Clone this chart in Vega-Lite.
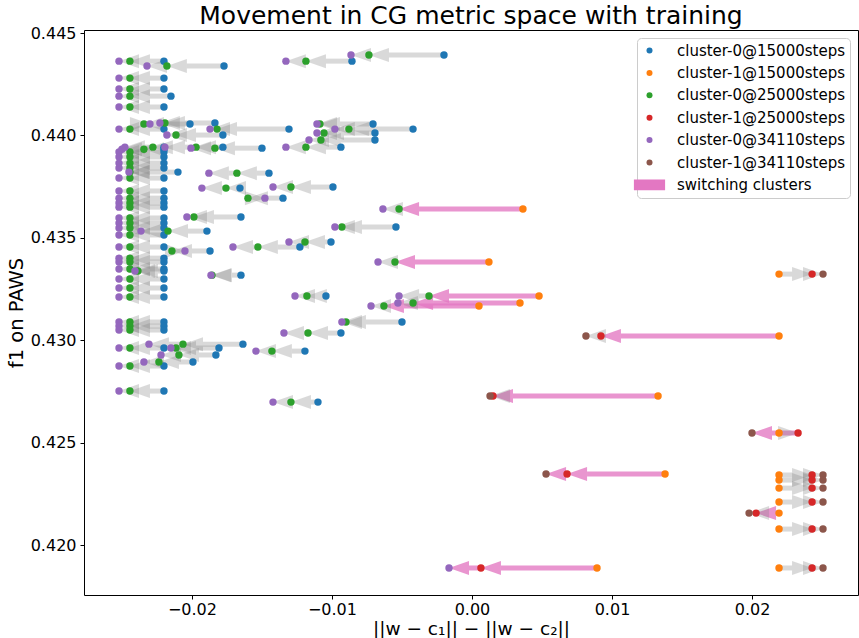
{
"$schema": "https://vega.github.io/schema/vega-lite/v6.json",
"width": 774, "height": 565,
"autosize": {"type": "none"},
"padding": {"left": 84, "top": 30, "right": 1, "bottom": 43},
"title": {"text": "Movement in CG metric space with training", "fontSize": 25, "font": "DejaVu Sans", "fontWeight": "normal", "color": "black", "anchor": "middle", "baseline": "alphabetic", "offset": 5, "frame": "group", "dy": 29},
"config": {
  "view": {"stroke": "black", "strokeWidth": 1},
  "font": "DejaVu Sans",
  "axis": {"grid": false, "domain": false, "tickColor": "black", "tickSize": 4, "labelFontSize": 16, "labelColor": "black", "labelFont": "DejaVu Sans", "titleFontSize": 20, "titleFontWeight": "normal", "titleColor": "black", "titleFont": "DejaVu Sans"},
  "axisX": {"titlePadding": 2, "labelPadding": 2, "titleFontSize": 18.5},
  "axisY": {"titleFontSize": 19.5, "labelPadding": 4},
  "legend": {"orient": "top-right", "offset": 8, "labelFontSize": 15, "labelFont": "DejaVu Sans", "labelColor": "black", "symbolSize": 36, "rowPadding": 6.4, "padding": 5, "strokeColor": "#cccccc", "cornerRadius": 4, "fillColor": "white", "labelLimit": 400, "labelOffset": 20, "symbolOffset": 0}
},
"datasets": {"pts": [
{"id":1,"s":1,"c":"cluster-0@15000steps","x":-0.022,"y":0.44363,"a":"g"},{"id":1,"s":2,"c":"cluster-0@25000steps","x":-0.02443,"y":0.44363,"a":"g"},{"id":1,"s":3,"c":"cluster-0@34110steps","x":-0.02521,"y":0.44363},
{"id":2,"s":1,"c":"cluster-0@15000steps","x":-0.01771,"y":0.44339,"a":"g"},{"id":2,"s":2,"c":"cluster-0@25000steps","x":-0.02179,"y":0.44339,"a":"g"},{"id":2,"s":3,"c":"cluster-0@34110steps","x":-0.02321,"y":0.44339},
{"id":3,"s":1,"c":"cluster-0@15000steps","x":-0.022,"y":0.4428,"a":"g"},{"id":3,"s":2,"c":"cluster-0@25000steps","x":-0.02443,"y":0.4428,"a":"g"},{"id":3,"s":3,"c":"cluster-0@34110steps","x":-0.02521,"y":0.4428},
{"id":4,"s":1,"c":"cluster-0@15000steps","x":-0.022,"y":0.44227,"a":"g"},{"id":4,"s":2,"c":"cluster-0@25000steps","x":-0.02443,"y":0.44227,"a":"g"},{"id":4,"s":3,"c":"cluster-0@34110steps","x":-0.02521,"y":0.44227},
{"id":5,"s":1,"c":"cluster-0@15000steps","x":-0.0215,"y":0.44192,"a":"g"},{"id":5,"s":2,"c":"cluster-0@25000steps","x":-0.02443,"y":0.44192,"a":"g"},{"id":5,"s":3,"c":"cluster-0@34110steps","x":-0.02521,"y":0.44192},
{"id":6,"s":1,"c":"cluster-0@15000steps","x":-0.022,"y":0.44139,"a":"g"},{"id":6,"s":2,"c":"cluster-0@25000steps","x":-0.02443,"y":0.44139,"a":"g"},{"id":6,"s":3,"c":"cluster-0@34110steps","x":-0.02521,"y":0.44139},
{"id":7,"s":1,"c":"cluster-0@15000steps","x":-0.002,"y":0.44393,"a":"g"},{"id":7,"s":2,"c":"cluster-0@25000steps","x":-0.00736,"y":0.44393,"a":"g"},{"id":7,"s":3,"c":"cluster-0@34110steps","x":-0.00864,"y":0.44393},
{"id":8,"s":1,"c":"cluster-0@15000steps","x":-0.00857,"y":0.44363,"a":"g"},{"id":8,"s":2,"c":"cluster-0@25000steps","x":-0.01186,"y":0.44363,"a":"g"},{"id":8,"s":3,"c":"cluster-0@34110steps","x":-0.01329,"y":0.44363},
{"id":9,"s":1,"c":"cluster-0@15000steps","x":-0.01836,"y":0.44061,"a":"g"},{"id":9,"s":2,"c":"cluster-0@25000steps","x":-0.02193,"y":0.44061,"a":"g"},{"id":9,"s":3,"c":"cluster-0@34110steps","x":-0.02229,"y":0.44061},
{"id":10,"s":1,"c":"cluster-0@15000steps","x":-0.02014,"y":0.44056,"a":"g"},{"id":10,"s":2,"c":"cluster-0@25000steps","x":-0.02343,"y":0.44056,"a":"g"},{"id":10,"s":3,"c":"cluster-0@34110steps","x":-0.023,"y":0.44056},
{"id":11,"s":1,"c":"cluster-0@15000steps","x":-0.022,"y":0.44031,"a":"g"},{"id":11,"s":2,"c":"cluster-0@25000steps","x":-0.02443,"y":0.44031,"a":"g"},{"id":11,"s":3,"c":"cluster-0@34110steps","x":-0.02521,"y":0.44031},
{"id":12,"s":1,"c":"cluster-0@15000steps","x":-0.01307,"y":0.44031,"a":"g"},{"id":12,"s":2,"c":"cluster-0@25000steps","x":-0.01821,"y":0.44031,"a":"g"},{"id":12,"s":3,"c":"cluster-0@34110steps","x":-0.01871,"y":0.44031},
{"id":13,"s":1,"c":"cluster-0@15000steps","x":-0.01779,"y":0.44002,"a":"g"},{"id":13,"s":2,"c":"cluster-0@25000steps","x":-0.02114,"y":0.44002,"a":"g"},{"id":13,"s":3,"c":"cluster-0@34110steps","x":-0.02179,"y":0.44002},
{"id":14,"s":1,"c":"cluster-0@15000steps","x":-0.00707,"y":0.44056,"a":"g"},{"id":14,"s":2,"c":"cluster-0@25000steps","x":-0.01086,"y":0.44056,"a":"g"},{"id":14,"s":3,"c":"cluster-0@34110steps","x":-0.01107,"y":0.44056},
{"id":15,"s":1,"c":"cluster-0@15000steps","x":-0.00421,"y":0.44031,"a":"g"},{"id":15,"s":2,"c":"cluster-0@25000steps","x":-0.00879,"y":0.44031,"a":"g"},{"id":15,"s":3,"c":"cluster-0@34110steps","x":-0.00979,"y":0.44031},
{"id":16,"s":1,"c":"cluster-0@15000steps","x":-0.00693,"y":0.44012,"a":"g"},{"id":16,"s":2,"c":"cluster-0@25000steps","x":-0.01057,"y":0.44012,"a":"g"},{"id":16,"s":3,"c":"cluster-0@34110steps","x":-0.01107,"y":0.44012},
{"id":17,"s":1,"c":"cluster-0@15000steps","x":-0.00693,"y":0.43978,"a":"g"},{"id":17,"s":2,"c":"cluster-0@25000steps","x":-0.01079,"y":0.43978,"a":"g"},{"id":17,"s":3,"c":"cluster-0@34110steps","x":-0.01164,"y":0.43978},
{"id":18,"s":1,"c":"cluster-0@15000steps","x":-0.00936,"y":0.43943,"a":"g"},{"id":18,"s":2,"c":"cluster-0@25000steps","x":-0.01186,"y":0.43943,"a":"g"},{"id":18,"s":3,"c":"cluster-0@34110steps","x":-0.01329,"y":0.43943},
{"id":19,"s":1,"c":"cluster-0@15000steps","x":-0.015,"y":0.43938,"a":"g"},{"id":19,"s":2,"c":"cluster-0@25000steps","x":-0.01836,"y":0.43938,"a":"g"},{"id":19,"s":3,"c":"cluster-0@34110steps","x":-0.02007,"y":0.43938},
{"id":20,"s":1,"c":"cluster-0@15000steps","x":-0.01779,"y":0.43943,"a":"g"},{"id":20,"s":2,"c":"cluster-0@25000steps","x":-0.01971,"y":0.43943,"a":"g"},{"id":20,"s":3,"c":"cluster-0@34110steps","x":-0.02193,"y":0.43943},
{"id":21,"s":1,"c":"cluster-0@15000steps","x":-0.022,"y":0.43943,"a":"g"},{"id":21,"s":2,"c":"cluster-0@25000steps","x":-0.02279,"y":0.43943,"a":"g"},{"id":21,"s":3,"c":"cluster-0@34110steps","x":-0.02479,"y":0.43943},
{"id":22,"s":1,"c":"cluster-0@15000steps","x":-0.022,"y":0.43933,"a":"g"},{"id":22,"s":2,"c":"cluster-0@25000steps","x":-0.02343,"y":0.43933,"a":"g"},{"id":22,"s":3,"c":"cluster-0@34110steps","x":-0.025,"y":0.43933},
{"id":23,"s":1,"c":"cluster-0@15000steps","x":-0.022,"y":0.43919,"a":"g"},{"id":23,"s":2,"c":"cluster-0@25000steps","x":-0.02443,"y":0.43919,"a":"g"},{"id":23,"s":3,"c":"cluster-0@34110steps","x":-0.02521,"y":0.43919},
{"id":24,"s":1,"c":"cluster-0@15000steps","x":-0.022,"y":0.43895,"a":"g"},{"id":24,"s":2,"c":"cluster-0@25000steps","x":-0.02443,"y":0.43895,"a":"g"},{"id":24,"s":3,"c":"cluster-0@34110steps","x":-0.02521,"y":0.43895},
{"id":25,"s":1,"c":"cluster-0@15000steps","x":-0.022,"y":0.43865,"a":"g"},{"id":25,"s":2,"c":"cluster-0@25000steps","x":-0.02443,"y":0.43865,"a":"g"},{"id":25,"s":3,"c":"cluster-0@34110steps","x":-0.02521,"y":0.43865},
{"id":26,"s":1,"c":"cluster-0@15000steps","x":-0.022,"y":0.43841,"a":"g"},{"id":26,"s":2,"c":"cluster-0@25000steps","x":-0.02443,"y":0.43841,"a":"g"},{"id":26,"s":3,"c":"cluster-0@34110steps","x":-0.02521,"y":0.43841},
{"id":27,"s":1,"c":"cluster-0@15000steps","x":-0.021,"y":0.43821,"a":"g"},{"id":27,"s":2,"c":"cluster-0@25000steps","x":-0.02443,"y":0.43821,"a":"g"},{"id":27,"s":3,"c":"cluster-0@34110steps","x":-0.0245,"y":0.43821},
{"id":28,"s":1,"c":"cluster-0@15000steps","x":-0.0145,"y":0.43816,"a":"g"},{"id":28,"s":2,"c":"cluster-0@25000steps","x":-0.01679,"y":0.43816,"a":"g"},{"id":28,"s":3,"c":"cluster-0@34110steps","x":-0.01879,"y":0.43816},
{"id":29,"s":1,"c":"cluster-0@15000steps","x":-0.022,"y":0.43792,"a":"g"},{"id":29,"s":2,"c":"cluster-0@25000steps","x":-0.02443,"y":0.43792,"a":"g"},{"id":29,"s":3,"c":"cluster-0@34110steps","x":-0.02521,"y":0.43792},
{"id":30,"s":1,"c":"cluster-0@15000steps","x":-0.00993,"y":0.43748,"a":"g"},{"id":30,"s":2,"c":"cluster-0@25000steps","x":-0.01293,"y":0.43748,"a":"g"},{"id":30,"s":3,"c":"cluster-0@34110steps","x":-0.01421,"y":0.43748},
{"id":31,"s":1,"c":"cluster-0@15000steps","x":-0.01657,"y":0.43743,"a":"g"},{"id":31,"s":2,"c":"cluster-0@25000steps","x":-0.01757,"y":0.43743,"a":"g"},{"id":31,"s":3,"c":"cluster-0@34110steps","x":-0.01929,"y":0.43743},
{"id":32,"s":1,"c":"cluster-0@15000steps","x":-0.022,"y":0.43729,"a":"g"},{"id":32,"s":2,"c":"cluster-0@25000steps","x":-0.02443,"y":0.43729,"a":"g"},{"id":32,"s":3,"c":"cluster-0@34110steps","x":-0.02521,"y":0.43729},
{"id":33,"s":1,"c":"cluster-0@15000steps","x":-0.0135,"y":0.43694,"a":"g"},{"id":33,"s":2,"c":"cluster-0@25000steps","x":-0.016,"y":0.43694,"a":"g"},{"id":33,"s":3,"c":"cluster-0@34110steps","x":-0.01479,"y":0.43694},
{"id":34,"s":1,"c":"cluster-0@15000steps","x":-0.022,"y":0.43694,"a":"g"},{"id":34,"s":2,"c":"cluster-0@25000steps","x":-0.02443,"y":0.43694,"a":"g"},{"id":34,"s":3,"c":"cluster-0@34110steps","x":-0.02521,"y":0.43694},
{"id":35,"s":1,"c":"cluster-0@15000steps","x":-0.022,"y":0.4367,"a":"g"},{"id":35,"s":2,"c":"cluster-0@25000steps","x":-0.02443,"y":0.4367,"a":"g"},{"id":35,"s":3,"c":"cluster-0@34110steps","x":-0.02521,"y":0.4367},
{"id":36,"s":1,"c":"cluster-0@15000steps","x":-0.022,"y":0.4365,"a":"g"},{"id":36,"s":2,"c":"cluster-0@25000steps","x":-0.02443,"y":0.4365,"a":"g"},{"id":36,"s":3,"c":"cluster-0@34110steps","x":-0.02521,"y":0.4365},
{"id":37,"s":1,"c":"cluster-0@15000steps","x":-0.0165,"y":0.43602,"a":"g"},{"id":37,"s":2,"c":"cluster-0@25000steps","x":-0.01986,"y":0.43602,"a":"g"},{"id":37,"s":3,"c":"cluster-0@34110steps","x":-0.02036,"y":0.43602},
{"id":38,"s":1,"c":"cluster-0@15000steps","x":-0.022,"y":0.43597,"a":"g"},{"id":38,"s":2,"c":"cluster-0@25000steps","x":-0.02443,"y":0.43597,"a":"g"},{"id":38,"s":3,"c":"cluster-0@34110steps","x":-0.02521,"y":0.43597},
{"id":39,"s":1,"c":"cluster-0@15000steps","x":-0.022,"y":0.43572,"a":"g"},{"id":39,"s":2,"c":"cluster-0@25000steps","x":-0.02443,"y":0.43572,"a":"g"},{"id":39,"s":3,"c":"cluster-0@34110steps","x":-0.02521,"y":0.43572},
{"id":40,"s":1,"c":"cluster-0@15000steps","x":-0.00543,"y":0.43553,"a":"g"},{"id":40,"s":2,"c":"cluster-0@25000steps","x":-0.00929,"y":0.43553,"a":"g"},{"id":40,"s":3,"c":"cluster-0@34110steps","x":-0.00979,"y":0.43553},
{"id":41,"s":1,"c":"cluster-0@15000steps","x":-0.022,"y":0.43548,"a":"g"},{"id":41,"s":2,"c":"cluster-0@25000steps","x":-0.02443,"y":0.43548,"a":"g"},{"id":41,"s":3,"c":"cluster-0@34110steps","x":-0.02521,"y":0.43548},
{"id":42,"s":1,"c":"cluster-0@15000steps","x":-0.01893,"y":0.43533,"a":"g"},{"id":42,"s":2,"c":"cluster-0@25000steps","x":-0.02171,"y":0.43533,"a":"g"},{"id":42,"s":3,"c":"cluster-0@34110steps","x":-0.02364,"y":0.43533},
{"id":43,"s":1,"c":"cluster-0@15000steps","x":-0.022,"y":0.43514,"a":"g"},{"id":43,"s":2,"c":"cluster-0@25000steps","x":-0.02443,"y":0.43514,"a":"g"},{"id":43,"s":3,"c":"cluster-0@34110steps","x":-0.02521,"y":0.43514},
{"id":44,"s":1,"c":"cluster-0@15000steps","x":-0.01007,"y":0.4348,"a":"g"},{"id":44,"s":2,"c":"cluster-0@25000steps","x":-0.01193,"y":0.4348,"a":"g"},{"id":44,"s":3,"c":"cluster-0@34110steps","x":-0.01307,"y":0.4348},
{"id":45,"s":1,"c":"cluster-0@15000steps","x":-0.01229,"y":0.43455,"a":"g"},{"id":45,"s":2,"c":"cluster-0@25000steps","x":-0.01529,"y":0.43455,"a":"g"},{"id":45,"s":3,"c":"cluster-0@34110steps","x":-0.01707,"y":0.43455},
{"id":46,"s":1,"c":"cluster-0@15000steps","x":-0.022,"y":0.43455,"a":"g"},{"id":46,"s":2,"c":"cluster-0@25000steps","x":-0.02443,"y":0.43455,"a":"g"},{"id":46,"s":3,"c":"cluster-0@34110steps","x":-0.02521,"y":0.43455},
{"id":47,"s":1,"c":"cluster-0@15000steps","x":-0.01871,"y":0.43436,"a":"g"},{"id":47,"s":2,"c":"cluster-0@25000steps","x":-0.02143,"y":0.43436,"a":"g"},{"id":47,"s":3,"c":"cluster-0@34110steps","x":-0.0205,"y":0.43436},
{"id":48,"s":1,"c":"cluster-0@15000steps","x":-0.022,"y":0.43401,"a":"g"},{"id":48,"s":2,"c":"cluster-0@25000steps","x":-0.02443,"y":0.43401,"a":"g"},{"id":48,"s":3,"c":"cluster-0@34110steps","x":-0.02521,"y":0.43401},
{"id":49,"s":1,"c":"cluster-0@15000steps","x":-0.022,"y":0.43382,"a":"g"},{"id":49,"s":2,"c":"cluster-0@25000steps","x":-0.02443,"y":0.43382,"a":"g"},{"id":49,"s":3,"c":"cluster-0@34110steps","x":-0.02521,"y":0.43382},
{"id":50,"s":1,"c":"cluster-0@15000steps","x":-0.022,"y":0.43348,"a":"g"},{"id":50,"s":2,"c":"cluster-0@25000steps","x":-0.02443,"y":0.43348,"a":"g"},{"id":50,"s":3,"c":"cluster-0@34110steps","x":-0.02521,"y":0.43348},
{"id":51,"s":1,"c":"cluster-0@15000steps","x":-0.022,"y":0.43338,"a":"g"},{"id":51,"s":2,"c":"cluster-0@25000steps","x":-0.02386,"y":0.43338,"a":"g"},{"id":51,"s":3,"c":"cluster-0@34110steps","x":-0.02407,"y":0.43338},
{"id":52,"s":1,"c":"cluster-0@15000steps","x":-0.0165,"y":0.43318,"a":"g"},{"id":52,"s":2,"c":"cluster-0@25000steps","x":-0.01857,"y":0.43318,"a":"g"},{"id":52,"s":3,"c":"cluster-0@34110steps","x":-0.01864,"y":0.43318},
{"id":53,"s":1,"c":"cluster-0@15000steps","x":-0.022,"y":0.43299,"a":"g"},{"id":53,"s":2,"c":"cluster-0@25000steps","x":-0.02443,"y":0.43299,"a":"g"},{"id":53,"s":3,"c":"cluster-0@34110steps","x":-0.02521,"y":0.43299},
{"id":54,"s":1,"c":"cluster-0@15000steps","x":-0.022,"y":0.43255,"a":"g"},{"id":54,"s":2,"c":"cluster-0@25000steps","x":-0.02443,"y":0.43255,"a":"g"},{"id":54,"s":3,"c":"cluster-0@34110steps","x":-0.02521,"y":0.43255},
{"id":55,"s":1,"c":"cluster-0@15000steps","x":-0.01043,"y":0.43216,"a":"g"},{"id":55,"s":2,"c":"cluster-0@25000steps","x":-0.01179,"y":0.43216,"a":"g"},{"id":55,"s":3,"c":"cluster-0@34110steps","x":-0.01264,"y":0.43216},
{"id":56,"s":1,"c":"cluster-0@15000steps","x":-0.022,"y":0.43211,"a":"g"},{"id":56,"s":2,"c":"cluster-0@25000steps","x":-0.02443,"y":0.43211,"a":"g"},{"id":56,"s":3,"c":"cluster-0@34110steps","x":-0.02521,"y":0.43211},
{"id":57,"s":1,"c":"cluster-0@15000steps","x":-0.005,"y":0.43089,"a":"g"},{"id":57,"s":2,"c":"cluster-0@25000steps","x":-0.009,"y":0.43089,"a":"g"},{"id":57,"s":3,"c":"cluster-0@34110steps","x":-0.00929,"y":0.43089},
{"id":58,"s":1,"c":"cluster-0@15000steps","x":-0.022,"y":0.43089,"a":"g"},{"id":58,"s":2,"c":"cluster-0@25000steps","x":-0.02443,"y":0.43089,"a":"g"},{"id":58,"s":3,"c":"cluster-0@34110steps","x":-0.02521,"y":0.43089},
{"id":59,"s":1,"c":"cluster-0@15000steps","x":-0.022,"y":0.43069,"a":"g"},{"id":59,"s":2,"c":"cluster-0@25000steps","x":-0.02443,"y":0.43069,"a":"g"},{"id":59,"s":3,"c":"cluster-0@34110steps","x":-0.02521,"y":0.43069},
{"id":60,"s":1,"c":"cluster-0@15000steps","x":-0.022,"y":0.4305,"a":"g"},{"id":60,"s":2,"c":"cluster-0@25000steps","x":-0.02443,"y":0.4305,"a":"g"},{"id":60,"s":3,"c":"cluster-0@34110steps","x":-0.02521,"y":0.4305},
{"id":61,"s":1,"c":"cluster-0@15000steps","x":-0.00936,"y":0.43035,"a":"g"},{"id":61,"s":2,"c":"cluster-0@25000steps","x":-0.01171,"y":0.43035,"a":"g"},{"id":61,"s":3,"c":"cluster-0@34110steps","x":-0.01343,"y":0.43035},
{"id":62,"s":1,"c":"cluster-0@15000steps","x":-0.01636,"y":0.42981,"a":"g"},{"id":62,"s":2,"c":"cluster-0@25000steps","x":-0.02064,"y":0.42981,"a":"g"},{"id":62,"s":3,"c":"cluster-0@34110steps","x":-0.02307,"y":0.42981},
{"id":63,"s":1,"c":"cluster-0@15000steps","x":-0.01807,"y":0.42962,"a":"g"},{"id":63,"s":2,"c":"cluster-0@25000steps","x":-0.02114,"y":0.42962,"a":"g"},{"id":63,"s":3,"c":"cluster-0@34110steps","x":-0.0215,"y":0.42962},
{"id":64,"s":1,"c":"cluster-0@15000steps","x":-0.022,"y":0.42962,"a":"g"},{"id":64,"s":2,"c":"cluster-0@25000steps","x":-0.02443,"y":0.42962,"a":"g"},{"id":64,"s":3,"c":"cluster-0@34110steps","x":-0.02521,"y":0.42962},
{"id":65,"s":1,"c":"cluster-0@15000steps","x":-0.01193,"y":0.42947,"a":"g"},{"id":65,"s":2,"c":"cluster-0@25000steps","x":-0.01429,"y":0.42947,"a":"g"},{"id":65,"s":3,"c":"cluster-0@34110steps","x":-0.01543,"y":0.42947},
{"id":66,"s":1,"c":"cluster-0@15000steps","x":-0.01829,"y":0.42928,"a":"g"},{"id":66,"s":2,"c":"cluster-0@25000steps","x":-0.02093,"y":0.42928,"a":"g"},{"id":66,"s":3,"c":"cluster-0@34110steps","x":-0.02221,"y":0.42928},
{"id":67,"s":1,"c":"cluster-0@15000steps","x":-0.01993,"y":0.42894,"a":"g"},{"id":67,"s":2,"c":"cluster-0@25000steps","x":-0.02236,"y":0.42894,"a":"g"},{"id":67,"s":3,"c":"cluster-0@34110steps","x":-0.02343,"y":0.42894},
{"id":68,"s":1,"c":"cluster-0@15000steps","x":-0.022,"y":0.42874,"a":"g"},{"id":68,"s":2,"c":"cluster-0@25000steps","x":-0.02443,"y":0.42874,"a":"g"},{"id":68,"s":3,"c":"cluster-0@34110steps","x":-0.02521,"y":0.42874},
{"id":69,"s":1,"c":"cluster-0@15000steps","x":-0.022,"y":0.42752,"a":"g"},{"id":69,"s":2,"c":"cluster-0@25000steps","x":-0.02443,"y":0.42752,"a":"g"},{"id":69,"s":3,"c":"cluster-0@34110steps","x":-0.02521,"y":0.42752},
{"id":70,"s":1,"c":"cluster-0@15000steps","x":-0.011,"y":0.42698,"a":"g"},{"id":70,"s":2,"c":"cluster-0@25000steps","x":-0.01293,"y":0.42698,"a":"g"},{"id":70,"s":3,"c":"cluster-0@34110steps","x":-0.01421,"y":0.42698},
{"id":71,"s":1,"c":"cluster-1@15000steps","x":0.00364,"y":0.43641,"a":"p"},{"id":71,"s":2,"c":"cluster-0@25000steps","x":-0.00521,"y":0.43641,"a":"g"},{"id":71,"s":3,"c":"cluster-0@34110steps","x":-0.00636,"y":0.43641},
{"id":72,"s":1,"c":"cluster-1@15000steps","x":0.00121,"y":0.43382,"a":"p"},{"id":72,"s":2,"c":"cluster-0@25000steps","x":-0.0055,"y":0.43382,"a":"g"},{"id":72,"s":3,"c":"cluster-0@34110steps","x":-0.00671,"y":0.43382},
{"id":73,"s":1,"c":"cluster-1@15000steps","x":0.00479,"y":0.43216,"a":"p"},{"id":73,"s":2,"c":"cluster-0@25000steps","x":-0.00307,"y":0.43216,"a":"g"},{"id":73,"s":3,"c":"cluster-0@34110steps","x":-0.00521,"y":0.43216},
{"id":74,"s":1,"c":"cluster-1@15000steps","x":0.00343,"y":0.43182,"a":"p"},{"id":74,"s":2,"c":"cluster-0@25000steps","x":-0.00421,"y":0.43182,"a":"g"},{"id":74,"s":3,"c":"cluster-0@34110steps","x":-0.00529,"y":0.43182},
{"id":75,"s":1,"c":"cluster-1@15000steps","x":0.0005,"y":0.43167,"a":"p"},{"id":75,"s":2,"c":"cluster-0@25000steps","x":-0.00629,"y":0.43167,"a":"g"},{"id":75,"s":3,"c":"cluster-0@34110steps","x":-0.00721,"y":0.43167},
{"id":76,"s":1,"c":"cluster-1@15000steps","x":0.02193,"y":0.43323,"a":"g"},{"id":76,"s":2,"c":"cluster-1@25000steps","x":0.02429,"y":0.43323,"a":"g"},{"id":76,"s":3,"c":"cluster-1@34110steps","x":0.02507,"y":0.43323},
{"id":77,"s":1,"c":"cluster-1@15000steps","x":0.02193,"y":0.43021,"a":"p"},{"id":77,"s":2,"c":"cluster-1@25000steps","x":0.00921,"y":0.43021,"a":"g"},{"id":77,"s":3,"c":"cluster-1@34110steps","x":0.00814,"y":0.43021},
{"id":78,"s":1,"c":"cluster-1@15000steps","x":0.01329,"y":0.42728,"a":"p"},{"id":78,"s":2,"c":"cluster-1@25000steps","x":0.0015,"y":0.42728,"a":"g"},{"id":78,"s":3,"c":"cluster-1@34110steps","x":0.00129,"y":0.42728},
{"id":79,"s":1,"c":"cluster-1@15000steps","x":0.02193,"y":0.42547,"a":"g"},{"id":79,"s":2,"c":"cluster-1@25000steps","x":0.02329,"y":0.42547,"a":"p"},{"id":79,"s":3,"c":"cluster-1@34110steps","x":0.02,"y":0.42547},
{"id":80,"s":1,"c":"cluster-1@15000steps","x":0.01379,"y":0.42347,"a":"p"},{"id":80,"s":2,"c":"cluster-1@25000steps","x":0.00679,"y":0.42347,"a":"p"},{"id":80,"s":3,"c":"cluster-1@34110steps","x":0.00529,"y":0.42347},
{"id":81,"s":1,"c":"cluster-1@15000steps","x":0.02193,"y":0.42342,"a":"g"},{"id":81,"s":2,"c":"cluster-1@25000steps","x":0.02429,"y":0.42342,"a":"g"},{"id":81,"s":3,"c":"cluster-1@34110steps","x":0.02507,"y":0.42342},
{"id":82,"s":1,"c":"cluster-1@15000steps","x":0.02193,"y":0.42317,"a":"g"},{"id":82,"s":2,"c":"cluster-1@25000steps","x":0.02429,"y":0.42317,"a":"g"},{"id":82,"s":3,"c":"cluster-1@34110steps","x":0.02507,"y":0.42317},
{"id":83,"s":1,"c":"cluster-1@15000steps","x":0.02193,"y":0.42278,"a":"g"},{"id":83,"s":2,"c":"cluster-1@25000steps","x":0.02429,"y":0.42278,"a":"g"},{"id":83,"s":3,"c":"cluster-1@34110steps","x":0.02507,"y":0.42278},
{"id":84,"s":1,"c":"cluster-1@15000steps","x":0.02193,"y":0.4221,"a":"g"},{"id":84,"s":2,"c":"cluster-1@25000steps","x":0.02429,"y":0.4221,"a":"g"},{"id":84,"s":3,"c":"cluster-1@34110steps","x":0.02507,"y":0.4221},
{"id":85,"s":1,"c":"cluster-1@15000steps","x":0.02193,"y":0.42156,"a":"p"},{"id":85,"s":2,"c":"cluster-1@25000steps","x":0.02029,"y":0.42156,"a":"g"},{"id":85,"s":3,"c":"cluster-1@34110steps","x":0.01979,"y":0.42156},
{"id":86,"s":1,"c":"cluster-1@15000steps","x":0.02193,"y":0.42078,"a":"g"},{"id":86,"s":2,"c":"cluster-1@25000steps","x":0.02429,"y":0.42078,"a":"g"},{"id":86,"s":3,"c":"cluster-1@34110steps","x":0.02507,"y":0.42078},
{"id":87,"s":1,"c":"cluster-1@15000steps","x":0.00893,"y":0.41888,"a":"p"},{"id":87,"s":2,"c":"cluster-1@25000steps","x":0.00064,"y":0.41888,"a":"p"},{"id":87,"s":3,"c":"cluster-0@34110steps","x":-0.00164,"y":0.41888},
{"id":88,"s":1,"c":"cluster-1@15000steps","x":0.02193,"y":0.41888,"a":"g"},{"id":88,"s":2,"c":"cluster-1@25000steps","x":0.02429,"y":0.41888,"a":"g"},{"id":88,"s":3,"c":"cluster-1@34110steps","x":0.02507,"y":0.41888}
]},
"data": {"name": "pts"},
"layer": [
  {
    "transform": [
      {"window": [{"op": "lead", "field": "x", "as": "xn"}], "groupby": ["id"], "sort": [{"field": "s", "order": "ascending"}]},
      {"filter": "datum.xn != null && datum.xn < datum.x - 0.00143"}
    ],
    "mark": {"type": "rule", "strokeWidth": 5, "strokeCap": "butt", "x2Offset": 20},
    "encoding": {
      "x": {"field": "x", "type": "quantitative", "title": "||w − c₁|| − ||w − c₂||", "scale": {"domain": [-0.02771, 0.02757], "zero": false, "nice": false}, "axis": {"values": [-0.02, -0.01, 0, 0.01, 0.02], "format": ".2f"}},
      "x2": {"field": "xn"},
      "y": {"field": "y", "type": "quantitative", "title": "f1 on PAWS", "scale": {"domain": [0.41756, 0.44515], "zero": false, "nice": false}, "axis": {"values": [0.42, 0.425, 0.43, 0.435, 0.44, 0.445], "format": ".3f"}},
      "color": {"condition": {"test": "datum.a === 'p'", "value": "#e377c2"}, "value": "#808080"},
      "opacity": {"condition": {"test": "datum.a === 'p'", "value": 0.78}, "value": 0.3}
    }
  },
  {
    "transform": [
      {"window": [{"op": "lead", "field": "x", "as": "xn"}], "groupby": ["id"], "sort": [{"field": "s", "order": "ascending"}]},
      {"filter": "datum.xn != null && datum.xn > datum.x + 0.00143"}
    ],
    "mark": {"type": "rule", "strokeWidth": 5, "strokeCap": "butt", "x2Offset": -20},
    "encoding": {
      "x": {"field": "x", "type": "quantitative", "title": "||w − c₁|| − ||w − c₂||", "scale": {"domain": [-0.02771, 0.02757], "zero": false, "nice": false}},
      "x2": {"field": "xn"},
      "y": {"field": "y", "type": "quantitative", "title": "f1 on PAWS", "scale": {"domain": [0.41756, 0.44515], "zero": false, "nice": false}},
      "color": {"condition": {"test": "datum.a === 'p'", "value": "#e377c2"}, "value": "#808080"},
      "opacity": {"condition": {"test": "datum.a === 'p'", "value": 0.78}, "value": 0.3}
    }
  },
  {
    "transform": [
      {"window": [{"op": "lead", "field": "x", "as": "xn"}], "groupby": ["id"], "sort": [{"field": "s", "order": "ascending"}]},
      {"filter": "datum.xn != null"}
    ],
    "mark": {"type": "point", "filled": true, "size": 400, "strokeWidth": 0},
    "encoding": {
      "x": {"field": "xn", "type": "quantitative", "title": "||w − c₁|| − ||w − c₂||", "scale": {"domain": [-0.02771, 0.02757], "zero": false, "nice": false}},
      "y": {"field": "y", "type": "quantitative", "title": "f1 on PAWS", "scale": {"domain": [0.41756, 0.44515], "zero": false, "nice": false}},
      "shape": {"condition": {"test": "datum.xn < datum.x", "value": "M0,0L2,-0.7L2,0.7Z"}, "value": "M0,0L-2,-0.7L-2,0.7Z"},
      "color": {"condition": {"test": "datum.a === 'p'", "value": "#e377c2"}, "value": "#808080"},
      "opacity": {"condition": {"test": "datum.a === 'p'", "value": 0.78}, "value": 0.3}
    }
  },
  {
    "mark": {"type": "point", "filled": true, "size": 55, "opacity": 1, "strokeWidth": 0},
    "encoding": {
      "x": {"field": "x", "type": "quantitative", "title": "||w − c₁|| − ||w − c₂||", "scale": {"domain": [-0.02771, 0.02757], "zero": false, "nice": false}},
      "y": {"field": "y", "type": "quantitative", "title": "f1 on PAWS", "scale": {"domain": [0.41756, 0.44515], "zero": false, "nice": false}},
      "color": {"field": "c", "type": "nominal", "scale": {"domain": ["cluster-0@15000steps", "cluster-1@15000steps", "cluster-0@25000steps", "cluster-1@25000steps", "cluster-0@34110steps", "cluster-1@34110steps", "switching clusters"], "range": ["#1f77b4", "#ff7f0e", "#2ca02c", "#d62728", "#9467bd", "#8c564b", "#e377c2"]}, "legend": {"title": null}},
      "shape": {"field": "c", "type": "nominal", "scale": {"domain": ["cluster-0@15000steps", "cluster-1@15000steps", "cluster-0@25000steps", "cluster-1@25000steps", "cluster-0@34110steps", "cluster-1@34110steps", "switching clusters"], "range": ["circle", "circle", "circle", "circle", "circle", "circle", "M-5.2,-1.8H5.2V1.8H-5.2Z"]}, "legend": {"title": null}},
      "order": {"field": "s"}
    }
  }
]
}
